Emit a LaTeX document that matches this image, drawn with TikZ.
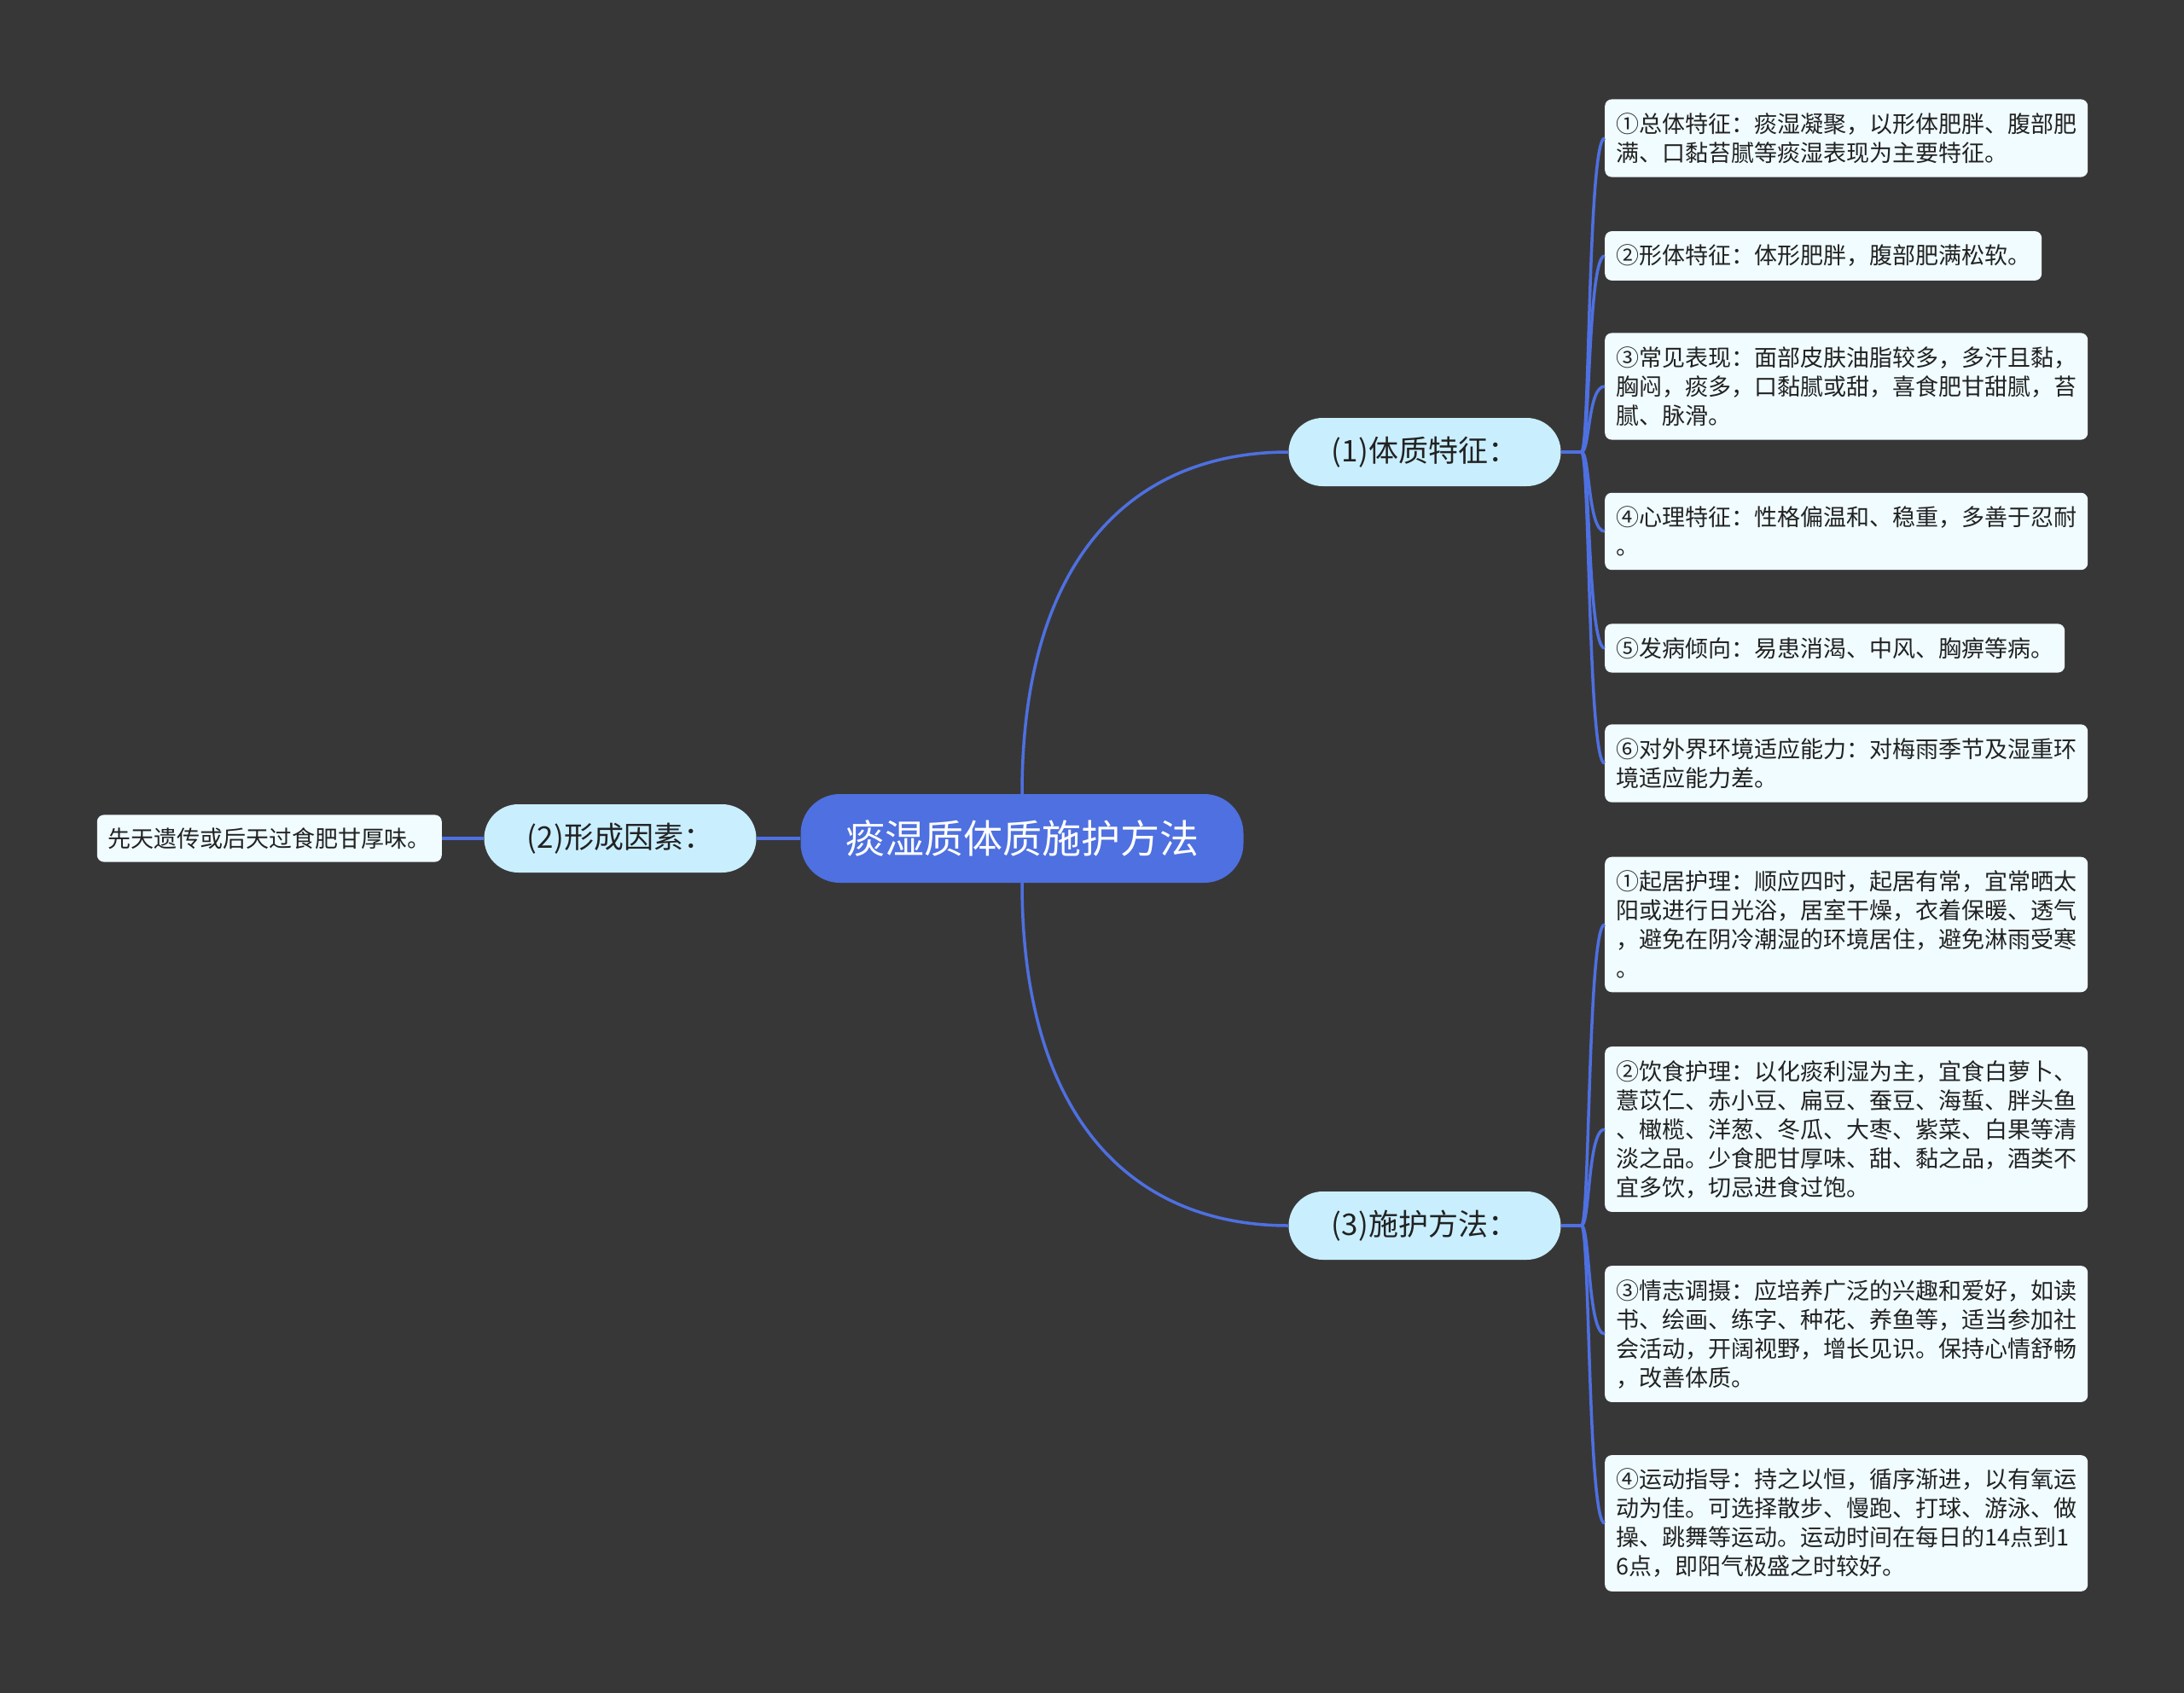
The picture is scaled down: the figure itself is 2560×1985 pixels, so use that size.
\documentclass[tikz,border=0pt]{standalone}
\usepackage{fontspec}
\newfontfamily\cjk{Noto Sans CJK SC}
\definecolor{bg}{HTML}{383738}
\definecolor{mainblue}{HTML}{4E70E0}
\definecolor{subfill}{HTML}{C9EFFF}
\definecolor{leaffill}{HTML}{F0FCFF}
\definecolor{ink}{HTML}{222222}
\begin{document}
\begin{tikzpicture}[x=1pt,y=-1pt,
  root/.style={fill=mainblue,text=white,rounded corners=46pt,minimum width=519pt,minimum height=104pt,inner sep=0pt,font=\cjk\fontsize{46}{52}\selectfont},
  topic/.style={fill=subfill,text=ink,rounded corners=40pt,minimum width=319pt,minimum height=80pt,inner sep=0pt,font=\cjk\fontsize{35}{40}\selectfont},
  leaf/.style={fill=leaffill,text=ink,rounded corners=8pt,align=left,inner xsep=13pt,inner ysep=16pt,font=\cjk\fontsize{27}{34}\selectfont},
  link/.style={draw=mainblue,line width=3.5pt}]
\useasboundingbox[fill=bg] (0,0) rectangle (2560,1985);
% centre and main branches
\node[root] (root) at (1198,983) {痰湿质体质施护方法};
\node[topic] (t1) at (1670,530) {(1)体质特征：};
\node[topic] (t2) at (727,983) {(2)形成因素：};
\node[topic] (t3) at (1670,1437) {(3)施护方法：};
% leaves of (1)
\node[leaf,anchor=west] (a1) at (1881,162) {①总体特征：痰湿凝聚，以形体肥胖、腹部肥\\满、口黏苔腻等痰湿表现为主要特征。};
\node[leaf,anchor=west] (a2) at (1881,300) {②形体特征：体形肥胖，腹部肥满松软。};
\node[leaf,anchor=west] (a3) at (1881,453) {③常见表现：面部皮肤油脂较多，多汗且黏，\\胸闷，痰多，口黏腻或甜，喜食肥甘甜腻，苔\\腻、脉滑。};
\node[leaf,anchor=west] (a4) at (1881,623) {④心理特征：性格偏温和、稳重，多善于忍耐\\。};
\node[leaf,anchor=west] (a5) at (1881,760) {⑤发病倾向：易患消渴、中风、胸痹等病。};
\node[leaf,anchor=west] (a6) at (1881,895) {⑥对外界环境适应能力：对梅雨季节及湿重环\\境适应能力差。};
% leaf of (2)
\node[leaf,anchor=east,inner ysep=15pt] (b1) at (518,983) {先天遗传或后天过食肥甘厚味。};
% leaves of (3)
\node[leaf,anchor=west] (c1) at (1881,1084) {①起居护理：顺应四时，起居有常，宜常晒太\\阳或进行日光浴，居室干燥，衣着保暖、透气\\，避免在阴冷潮湿的环境居住，避免淋雨受寒\\。};
\node[leaf,anchor=west] (c2) at (1881,1324) {②饮食护理：以化痰利湿为主，宜食白萝卜、\\薏苡仁、赤小豆、扁豆、蚕豆、海蜇、胖头鱼\\、橄榄、洋葱、冬瓜、大枣、紫菜、白果等清\\淡之品。少食肥甘厚味、甜、黏之品，酒类不\\宜多饮，切忌进食过饱。};
\node[leaf,anchor=west] (c3) at (1881,1564) {③情志调摄：应培养广泛的兴趣和爱好，如读\\书、绘画、练字、种花、养鱼等，适当参加社\\会活动，开阔视野，增长见识。保持心情舒畅\\，改善体质。};
\node[leaf,anchor=west] (c4) at (1881,1786) {④运动指导：持之以恒，循序渐进，以有氧运\\动为佳。可选择散步、慢跑、打球、游泳、做\\操、跳舞等运动。运动时间在每日的14点到1\\6点，即阳气极盛之时较好。};
% connectors
\draw[link] (root.north) .. controls +(0,-280) and +(-180,0) .. (t1.west);
\draw[link] (root.south) .. controls +(0,280) and +(-180,0) .. (t3.west);
\draw[link] (root.west) -- (t2.east);
\draw[link] (t2.west) -- (b1.east);
\draw[link] (t1.east) -- ++(24,0) coordinate (j1);
\draw[link] (t3.east) -- ++(24,0) coordinate (j3);
\foreach \n in {a1,a2,a3,a4,a5,a6}
  \draw[link] (j1) .. controls +(10,0) and +(-20,0) .. (\n.west);
\foreach \n in {c1,c2,c3,c4}
  \draw[link] (j3) .. controls +(10,0) and +(-20,0) .. (\n.west);
\end{tikzpicture}
\end{document}
